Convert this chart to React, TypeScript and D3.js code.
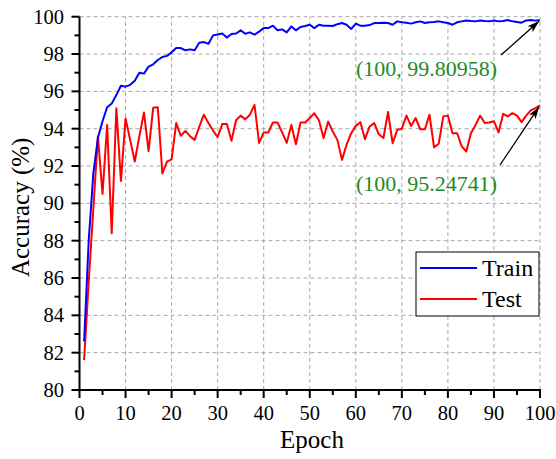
import React from "react";
import * as d3 from "d3";

const epochs: number[] = Array.from({ length: 100 }, (_, i) => i + 1);

const trainAcc: number[] = [
  82.6, 88.0, 91.6, 93.5, 94.4, 95.15, 95.35, 95.8, 96.3, 96.25,
  96.35, 96.57, 97.0, 96.95, 97.33, 97.45, 97.68, 97.84, 97.9, 98.09,
  98.32, 98.32, 98.2, 98.25, 98.2, 98.6, 98.64, 98.55, 99.0, 99.05,
  99.1, 98.88, 99.07, 99.1, 99.27, 99.09, 99.16, 99.04, 99.2, 99.39,
  99.39, 99.52, 99.27, 99.32, 99.16, 99.48, 99.27, 99.45, 99.5, 99.57,
  99.39, 99.57, 99.52, 99.52, 99.5, 99.6, 99.66, 99.57, 99.34, 99.63,
  99.52, 99.52, 99.55, 99.66, 99.66, 99.68, 99.66, 99.57, 99.75, 99.7,
  99.68, 99.63, 99.7, 99.75, 99.66, 99.7, 99.72, 99.75, 99.7, 99.66,
  99.57, 99.7, 99.75, 99.8, 99.77, 99.75, 99.8, 99.77, 99.75, 99.8,
  99.75, 99.77, 99.82, 99.75, 99.72, 99.68, 99.8, 99.82, 99.79, 99.80958,
];

const testAcc: number[] = [
  81.6, 85.8, 89.7, 93.6, 90.5, 94.2, 88.4, 95.1, 91.2, 94.55,
  93.4, 92.24, 93.6, 94.87, 92.8, 95.12, 95.15, 91.6, 92.24, 92.36,
  94.3, 93.62, 93.88, 93.6, 93.4, 94.1, 94.75, 94.3, 93.9, 93.55,
  94.25, 94.25, 93.35, 94.45, 94.7, 94.5, 94.75, 95.28, 93.24, 93.8,
  93.8, 94.33, 94.33, 93.8, 93.24, 94.2, 93.17, 94.33, 94.33, 94.57,
  94.83, 94.45, 93.5, 94.38, 93.85, 93.4, 92.33, 93.14, 93.76, 94.15,
  94.35, 93.44, 94.12, 94.3, 93.7, 93.5, 94.9, 93.22, 93.94, 94.0,
  94.7, 94.15, 94.57, 93.97, 93.97, 94.75, 93.0, 93.19, 94.66, 94.7,
  93.76, 93.76, 93.05, 92.78, 93.76, 94.2, 94.7, 94.3, 94.33, 94.4,
  93.8, 94.8, 94.66, 94.83, 94.7, 94.35, 94.7, 94.98, 95.1, 95.24741,
];

const xTicks: number[] = [0, 10, 20, 30, 40, 50, 60, 70, 80, 90, 100];
const xMinorTicks: number[] = [5, 15, 25, 35, 45, 55, 65, 75, 85, 95];
const yTicks: number[] = [80, 82, 84, 86, 88, 90, 92, 94, 96, 98, 100];
const yMinorTicks: number[] = [81, 83, 85, 87, 89, 91, 93, 95, 97, 99];

const seriesNames: string[] = ["Train", "Test"];
const annotations: string[] = ["(100, 99.80958)", "(100, 95.24741)"];

const W = 556;
const H = 459;
const FONT = "'Liberation Serif', 'Times New Roman', serif";
const GREEN = "#238a23";

export default function App() {
  const x = d3.scaleLinear().domain([0, 100]).range([79.5, 540]);
  const y = d3.scaleLinear().domain([80, 100]).range([390, 16.7]);

  const line = d3
    .line<[number, number]>()
    .x((d) => x(d[0]))
    .y((d) => y(d[1]));

  const trainPts: [number, number][] = epochs.map((e, i) => [e, trainAcc[i]]);
  const testPts: [number, number][] = epochs.map((e, i) => [e, testAcc[i]]);

  const lastE = epochs[epochs.length - 1];
  const trainEnd = [x(lastE), y(trainAcc[trainAcc.length - 1])];
  const testEnd = [x(lastE), y(testAcc[testAcc.length - 1])];

  return (
    <svg
      width={W}
      height={H}
      style={{ position: "absolute", left: 0, top: 0, background: "#fff" }}
      fontFamily={FONT}
    >
      <defs>
        <marker
          id="arrow"
          viewBox="0 0 12 8"
          refX="12"
          refY="4"
          markerWidth="12"
          markerHeight="8"
          markerUnits="userSpaceOnUse"
          orient="auto"
        >
          <path d="M0,0 L12,4 L0,8 L3,4 Z" fill="#000" />
        </marker>
        <clipPath id="plotclip">
          <rect x={79.5} y={10} width={470} height={381} />
        </clipPath>
      </defs>

      {/* grid */}
      <g stroke="#a8a8a8" strokeWidth={1} strokeDasharray="4,3">
        {xTicks.slice(1).map((t) => (
          <line key={"gx" + t} x1={x(t)} x2={x(t)} y1={y(80)} y2={y(100)} />
        ))}
        {yTicks.slice(1).map((t) => (
          <line key={"gy" + t} x1={x(0)} x2={x(100)} y1={y(t)} y2={y(t)} />
        ))}
      </g>

      {/* lines */}
      <g clipPath="url(#plotclip)" fill="none" strokeWidth={2} strokeLinejoin="round">
        <path d={line(testPts) || ""} stroke="#ff0000" />
        <path d={line(trainPts) || ""} stroke="#0000ff" />
      </g>

      {/* axes */}
      <g stroke="#000" strokeWidth={2}>
        <line x1={x(0)} x2={x(0)} y1={y(80) + 1} y2={y(100)} />
        <line x1={x(0) - 1} x2={x(100) + 1} y1={y(80)} y2={y(80)} />
        {xTicks.map((t) => (
          <line key={"tx" + t} x1={x(t)} x2={x(t)} y1={y(80)} y2={y(80) + 8} />
        ))}
        {xMinorTicks.map((t) => (
          <line key={"mx" + t} x1={x(t)} x2={x(t)} y1={y(80)} y2={y(80) + 5} />
        ))}
        {yTicks.map((t) => (
          <line key={"ty" + t} x1={x(0) - 8} x2={x(0)} y1={y(t)} y2={y(t)} />
        ))}
        {yMinorTicks.map((t) => (
          <line key={"my" + t} x1={x(0) - 5} x2={x(0)} y1={y(t)} y2={y(t)} />
        ))}
      </g>

      {/* tick labels */}
      <g fontSize={20.5} fill="#000">
        {xTicks.map((t) => (
          <text key={"lx" + t} x={x(t)} y={420} textAnchor="middle">
            {t}
          </text>
        ))}
        {yTicks.map((t) => (
          <text key={"ly" + t} x={64} y={y(t) + 7} textAnchor="end">
            {t}
          </text>
        ))}
      </g>

      {/* axis titles */}
      <text x={312} y={448} textAnchor="middle" fontSize={25} fill="#000">
        Epoch
      </text>
      <text
        transform={`translate(29, ${(y(80) + y(100)) / 2 + 4}) rotate(-90)`}
        textAnchor="middle"
        fontSize={25}
        fill="#000"
      >
        Accuracy (%)
      </text>

      {/* annotations */}
      <text x={356} y={76} fontSize={22} fill={GREEN}>
        {annotations[0]}
      </text>
      <text x={356} y={191} fontSize={22} fill={GREEN}>
        {annotations[1]}
      </text>
      <line
        x1={501}
        y1={55}
        x2={trainEnd[0] - 1}
        y2={trainEnd[1] + 1}
        stroke="#000"
        strokeWidth={1.3}
        markerEnd="url(#arrow)"
      />
      <line
        x1={500}
        y1={165}
        x2={testEnd[0] - 1}
        y2={testEnd[1] + 1.5}
        stroke="#000"
        strokeWidth={1.3}
        markerEnd="url(#arrow)"
      />

      {/* legend */}
      <g>
        <rect x={416} y={252} width={123} height={64} fill="#fff" stroke="#000" strokeWidth={1} />
        <line x1={420} x2={477} y1={268} y2={268} stroke="#0000ff" strokeWidth={2} />
        <line x1={420} x2={477} y1={299} y2={299} stroke="#ff0000" strokeWidth={2} />
        <text x={482} y={276} fontSize={24} fill="#000">
          {seriesNames[0]}
        </text>
        <text x={482} y={307} fontSize={24} fill="#000">
          {seriesNames[1]}
        </text>
      </g>
    </svg>
  );
}
